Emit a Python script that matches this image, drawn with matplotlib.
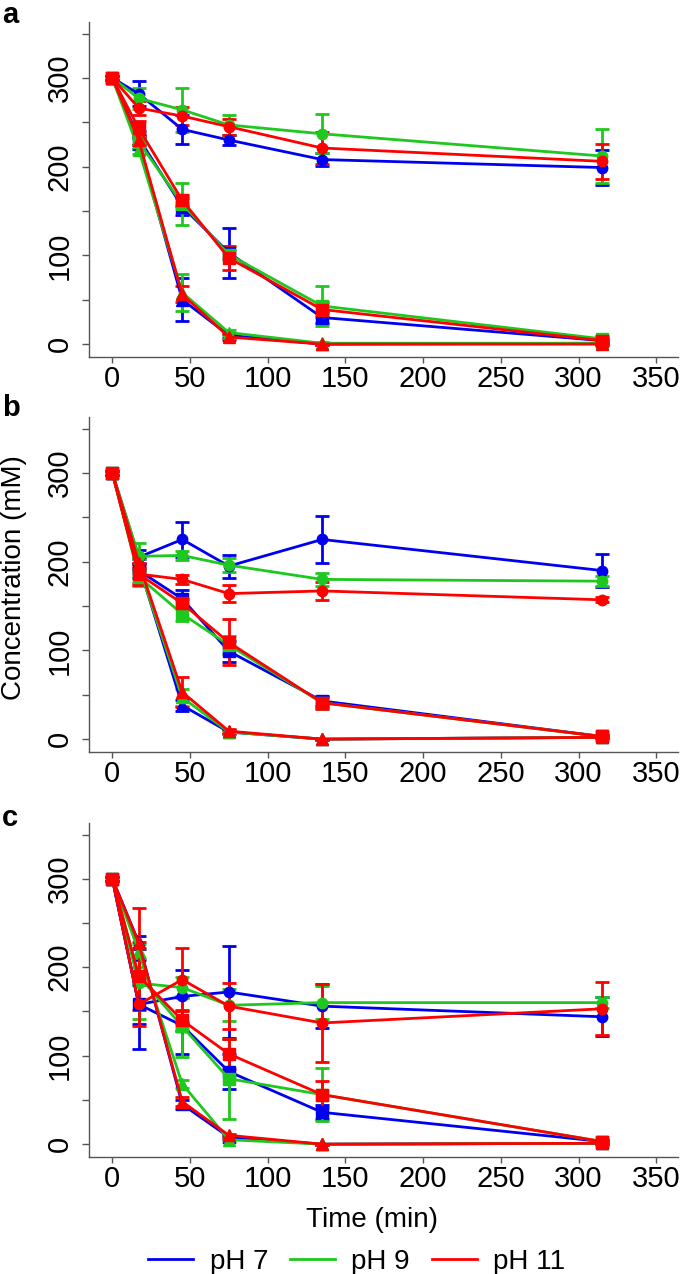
import matplotlib.pyplot as plt
from matplotlib.lines import Line2D

plt.rcParams['font.family'] = ['Liberation Sans', 'DejaVu Sans']

# sampling times (min)
time = [0, 17, 45, 75, 135, 315]

# each list: [circles, squares, triangles]
a_ph7_mean = [[300, 282, 242, 230, 208, 199], [300, 232, 155, 103, 30, 4], [300, 226, 50, 10, 0, 1]]
a_ph7_err = [[2, 14, 16, 6, 7, 20], [2, 8, 10, 28, 6, 2], [2, 6, 24, 3, 0.5, 1]]
a_ph9_mean = [[300, 277, 264, 247, 237, 212], [300, 228, 158, 101, 43, 6], [300, 219, 58, 13, 1, 1]]
a_ph9_err = [[2, 12, 25, 11, 22, 30], [2, 8, 24, 5, 23, 3], [2, 5, 21, 3, 1, 1]]
a_ph11_mean = [[300, 266, 257, 245, 221, 206], [300, 243, 162, 97, 39, 4], [300, 230, 56, 8, 0, 0]]
a_ph11_err = [[2, 8, 10, 9, 18, 20], [2, 8, 6, 14, 8, 2], [2, 6, 9, 3, 0.5, 0.5]]

b_ph7_mean = [[300, 205, 225, 195, 225, 190], [300, 190, 158, 99, 43, 3], [300, 197, 38, 8, 0, 2]]
b_ph7_err = [[2, 8, 20, 13, 26, 19], [2, 8, 10, 12, 6, 2], [2, 6, 6, 2, 0.5, 1]]
b_ph9_mean = [[300, 206, 207, 196, 180, 178], [300, 183, 141, 106, 41, 3], [300, 195, 47, 8, 0, 2]]
b_ph9_err = [[2, 15, 5, 8, 7, 6], [2, 10, 8, 10, 6, 2], [2, 8, 10, 2, 0.5, 1]]
b_ph11_mean = [[300, 186, 180, 164, 167, 157], [300, 186, 153, 109, 41, 3], [300, 199, 53, 9, 0, 2]]
b_ph11_err = [[2, 10, 5, 10, 10, 3], [2, 12, 5, 26, 7, 2], [2, 6, 17, 2, 0.5, 1]]

c_ph7_mean = [[300, 158, 167, 172, 156, 144], [300, 158, 134, 82, 36, 3], [300, 228, 45, 8, 0, 1]]
c_ph7_err = [[2, 50, 30, 52, 25, 22], [2, 22, 32, 20, 8, 2], [2, 7, 5, 2, 0.5, 1]]
c_ph9_mean = [[300, 182, 177, 157, 160, 160], [300, 190, 133, 74, 56, 3], [300, 218, 68, 5, 0, 1]]
c_ph9_err = [[2, 40, 12, 18, 19, 6], [2, 10, 34, 45, 30, 2], [2, 8, 5, 2, 0.5, 1]]
c_ph11_mean = [[300, 158, 186, 156, 137, 153], [300, 190, 140, 102, 56, 3], [300, 227, 48, 10, 0, 1]]
c_ph11_err = [[2, 25, 36, 26, 44, 30], [2, 38, 12, 17, 15, 2], [2, 40, 5, 2, 0.5, 1]]

ph_labels = ['pH 7', 'pH 9', 'pH 11']
colors = ['#0000f0', '#1ec81e', '#ff0000']
markers = ['o', 's', '^']
msizes = [7.5, 8, 8.5]

W, H = 680, 1274


def px_axes(left, top, right, bottom):
    return [left / W, 1 - bottom / H, (right - left) / W, (bottom - top) / H]


def draw_panel(ax, means, errs):
    for col, m_set, e_set in zip(colors, means, errs):
        for mk, ms, vals, ev in zip(markers, msizes, m_set, e_set):
            ax.errorbar(time, vals, yerr=ev, color=col, marker=mk, ms=ms,
                        lw=2, elinewidth=2, capsize=5, capthick=2)
    ax.set_xlim(-15, 364)
    ax.set_ylim(-14.5, 363)
    ax.set_xticks(range(0, 351, 50))
    ax.set_yticks(range(0, 351, 50))
    ax.set_yticklabels(['0', '', '100', '', '200', '', '300', ''])
    for s in ['top', 'right']:
        ax.spines[s].set_visible(False)
    for s in ['left', 'bottom']:
        ax.spines[s].set_color('#555555')
        ax.spines[s].set_linewidth(1.0)
    ax.tick_params(axis='x', length=4, width=1, color='#555555', pad=2, labelsize=21)
    ax.tick_params(axis='y', length=5, width=1, color='#555555', pad=6, labelsize=21)
    for lab in ax.get_yticklabels():
        lab.set_rotation(90)
        lab.set_va('center')


fig = plt.figure(figsize=(6.8, 12.74), dpi=100)

ax_a = fig.add_axes(px_axes(89, 22, 678, 357))
draw_panel(ax_a, [a_ph7_mean, a_ph9_mean, a_ph11_mean], [a_ph7_err, a_ph9_err, a_ph11_err])
ax_b = fig.add_axes(px_axes(89, 417, 678, 752))
draw_panel(ax_b, [b_ph7_mean, b_ph9_mean, b_ph11_mean], [b_ph7_err, b_ph9_err, b_ph11_err])
ax_c = fig.add_axes(px_axes(89, 823, 678, 1157))
draw_panel(ax_c, [c_ph7_mean, c_ph9_mean, c_ph11_mean], [c_ph7_err, c_ph9_err, c_ph11_err])

# panel letters
for letter, base in zip(['a', 'b', 'c'], [23, 416, 826]):
    fig.text(2 / W, 1 - base / H, letter, fontsize=21, fontweight='bold', va='baseline', ha='left')

fig.text(14 / W, 1 - 578 / H, 'Concentration (mM)', rotation=90, ha='center', va='center', fontsize=20)
fig.text(372 / W, 1 - 1220 / H, 'Time (min)', ha='center', va='center', fontsize=20)

handles = [Line2D([0], [0], color=c, lw=2) for c in colors]
fig.legend(handles, ph_labels, loc='center', bbox_to_anchor=(357 / W, 1 - 1262 / H), ncol=3,
           frameon=False, fontsize=20, handlelength=1.6, handletextpad=0.6, columnspacing=0.8,
           borderpad=0, borderaxespad=0)

fig.savefig('out.png', dpi=100)
